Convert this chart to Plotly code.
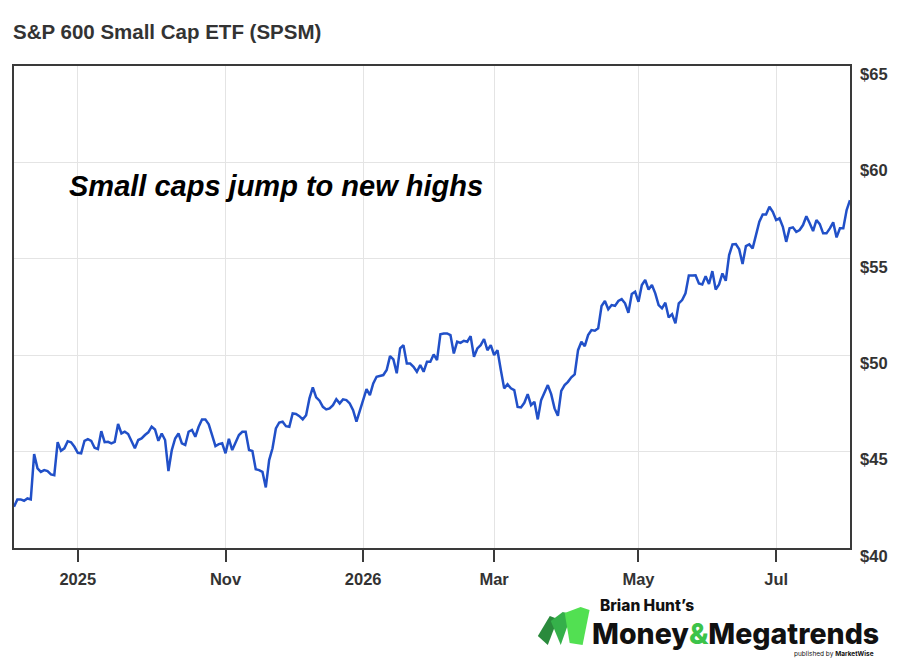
import pandas as pd
import plotly.graph_objects as go

# SPSM daily closes (trading days)
prices = [
    42.14, 42.52, 42.52, 42.45, 42.57, 42.52, 44.87, 44.13, 43.95, 44.04,
    43.99, 43.82, 43.78, 45.49, 45.04, 45.17, 45.54, 45.48, 45.25, 44.94,
    44.91, 45.56, 45.65, 45.56, 45.20, 45.13, 46.06, 45.49, 45.51, 45.43,
    45.51, 46.43, 45.94, 46.03, 45.91, 45.51, 45.17, 45.60, 45.68, 45.86,
    46.00, 46.29, 46.15, 45.56, 45.94,
    45.60, 43.99, 45.08, 45.68, 45.94, 45.43, 45.34, 46.03, 46.12, 45.77,
    46.29, 46.67, 46.67, 46.41, 45.86, 45.29, 45.39, 45.43, 44.91, 45.66,
    45.08, 45.43, 45.86, 46.03, 46.03, 45.08, 45.03, 44.08, 44.04, 43.95,
    43.14, 44.56, 45.17, 46.20, 46.51, 46.55, 46.32, 46.29, 46.98, 46.95,
    46.84, 46.67, 46.89, 47.76, 48.33, 47.81, 47.64, 47.32, 47.19, 47.24,
    47.41,
    47.72, 47.50, 47.71, 47.67, 47.50, 47.15, 46.55, 47.15, 47.67, 48.24,
    47.93, 48.54, 48.88, 48.93, 48.97, 49.23, 49.95, 49.78, 49.06, 50.35,
    50.52, 49.57, 49.57, 49.40, 49.14, 49.49, 49.14, 49.66, 49.66, 50.04,
    49.75, 51.09, 51.13, 51.13, 51.04, 50.09, 50.70, 50.64, 50.75, 50.70,
    50.99, 49.92, 50.35, 50.52, 50.84,
    50.26, 50.52, 50.01, 50.26, 49.23, 48.28, 48.49, 48.28, 48.19, 47.32,
    47.29, 47.53, 47.98, 47.41, 47.58, 46.67, 47.67, 48.02, 48.45, 47.98,
    47.24, 46.86, 48.15, 48.45, 48.62, 48.85, 49.00, 50.26, 50.70, 50.47,
    51.04, 51.30, 51.27, 51.39, 52.55, 52.81, 52.38, 52.60, 52.56, 52.81,
    52.91, 52.69, 52.20, 53.17, 53.29, 52.77, 53.64,
    53.90, 53.41, 53.64, 53.21, 52.60, 52.43, 52.72, 51.96, 52.13, 51.65,
    52.69, 52.86, 53.21, 54.14, 54.14, 54.15, 53.72, 53.67, 54.10, 53.69,
    54.36, 53.41, 53.67, 54.24, 53.86, 55.19, 55.75, 55.76, 55.49, 54.73,
    55.66, 55.75, 55.54, 56.23, 56.92, 57.30, 57.30, 57.70, 57.44, 57.01,
    57.10, 56.66, 55.88, 56.58, 56.63, 56.40, 56.49, 56.75, 57.21, 56.84,
    56.44, 57.01, 56.80, 56.32, 56.32, 56.58, 56.89, 56.11, 56.58, 56.58,
    57.53, 58.04,
]

market_holidays = [
    "2025-09-01", "2025-11-27", "2025-12-25", "2026-01-01", "2026-01-19",
    "2026-02-16", "2026-04-03", "2026-05-25", "2026-06-19", "2026-07-03",
]
start_date = "2025-08-05"

tick_dates = ["2025-09-02", "2025-11-03", "2026-01-02", "2026-03-02", "2026-05-01", "2026-07-01"]
tick_labels = ["2025", "Nov", "2026", "Mar", "May", "Jul"]

dates = pd.bdate_range(start=start_date, periods=len(prices), freq="C",
                       holidays=market_holidays).strftime("%Y-%m-%d").tolist()

W, H = 900, 664
L, R, T, B = 13, 854, 66, 548


def px(x):
    return (x - L) / (R - L)


def py(y):
    return (B - y) / (B - T)


fig = go.Figure()
fig.add_trace(go.Scatter(x=dates, y=prices, mode="lines",
                         line=dict(color="#2150c8", width=2.5), showlegend=False))

frame = "#3a3a3a"
fig.update_layout(
    width=W, height=H,
    margin=dict(l=L, r=W - R, t=T, b=H - B),
    paper_bgcolor="white", plot_bgcolor="white",
    font=dict(family="Liberation Sans, Arial, sans-serif", color="#333333"),
    title=dict(text="<b>S&P 600 Small Cap ETF (SPSM)</b>", x=13 / W, xanchor="left",
               y=1 - 32 / H, yanchor="middle",
               font=dict(size=20.5, color="#333333", family="Liberation Sans, Arial, sans-serif")),
)
fig.update_xaxes(
    type="category", range=[0, len(prices) - 1],
    tickvals=tick_dates, ticktext=tick_labels,
    showgrid=True, gridcolor="#e4e4e4", gridwidth=1,
    showline=True, linecolor=frame, linewidth=1.5, mirror=True,
    ticks="outside", ticklen=12, tickwidth=1.5, tickcolor=frame,
    ticklabelstandoff=3,
    tickfont=dict(size=16.5, color="#333333", weight="bold"),
)
fig.update_yaxes(
    side="right", range=[40, 65], dtick=5, tickprefix="$",
    showgrid=True, gridcolor="#e4e4e4", gridwidth=1,
    showline=True, linecolor=frame, linewidth=1.5, mirror=True,
    ticks="", ticklabelstandoff=5, ticklabelshift=8,
    tickfont=dict(size=16.5, color="#333333", weight="bold"),
    zeroline=False,
)

fig.add_annotation(
    text="<b><i>Small caps jump to new highs</i></b>", xref="paper", yref="paper",
    x=px(66), y=py(186), xanchor="left", yanchor="middle", showarrow=False,
    font=dict(size=29, color="#000000", family="Liberation Sans, Arial, sans-serif"),
)

# logo, bottom right
logo_shapes = [
    ([(540, 636), (552, 616), (560, 619), (550, 645)], "#2a8a3c"),
    ([(553, 621), (565, 612), (574, 614), (563, 645)], "#35b04a"),
    ([(567, 613), (583, 607), (592, 610), (585, 645), (572, 643)], "#52e052"),
]
for pts, col in logo_shapes:
    path = "M " + " L ".join(f"{px(x):.5f},{py(y):.5f}" for x, y in pts) + " Z"
    fig.add_shape(type="path", path=path, xref="paper", yref="paper",
                  fillcolor=col, line=dict(width=0), layer="above")

logo_font = "Inter, Lato, sans-serif"
fig.add_annotation(text="Brian Hunt’s", xref="paper", yref="paper", x=px(600), y=py(605),
                   xanchor="left", yanchor="middle", showarrow=False,
                   font=dict(size=15.5, color="#111111", family=logo_font, weight=800))
fig.add_annotation(text="Money<span style='color:#3cc34a'>&</span>Megatrends",
                   xref="paper", yref="paper", x=px(592), y=py(633),
                   xanchor="left", yanchor="middle", showarrow=False,
                   font=dict(size=28.5, color="#111111", family=logo_font, weight=800))
fig.add_annotation(text="published by <b>MarketWise</b>", xref="paper", yref="paper",
                   x=px(880), y=py(654), xanchor="right", yanchor="middle", showarrow=False,
                   font=dict(size=6.5, color="#111111", family=logo_font))

fig.write_html("out.html", config={"displayModeBar": False},
               post_script="document.body.style.margin='0';")
